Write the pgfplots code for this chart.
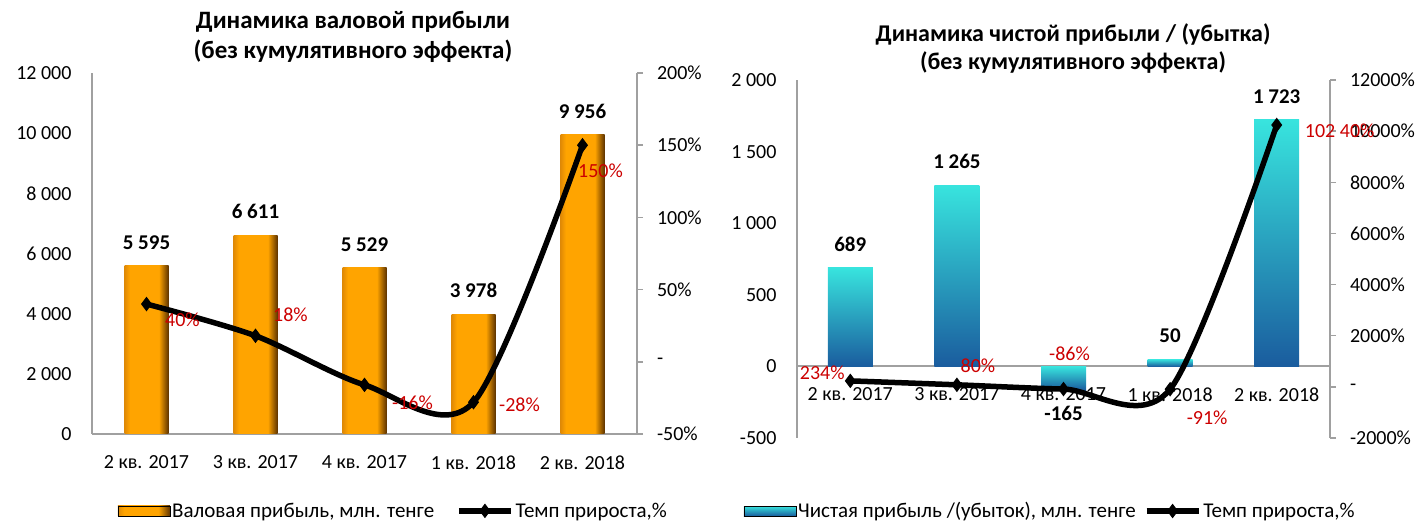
\documentclass[border=0pt]{standalone}
\usepackage{pgfplots}
\usepackage{pgfplotstable}
\pgfplotsset{compat=1.18}
\usepackage{fontspec}
\setmainfont{Carlito}
\definecolor{or1}{HTML}{E08A06}
\definecolor{or2}{HTML}{FFA400}
\definecolor{or3}{HTML}{5E3300}
\definecolor{tq1}{HTML}{38E4DE}
\definecolor{tq2}{HTML}{1A5C9E}
\definecolor{axgray}{HTML}{A0A0A0}
\definecolor{lblred}{HTML}{CC0000}
\pgfdeclarehorizontalshading{orbar}{100bp}{color(0bp)=(or1); color(25bp)=(or1); color(31bp)=(or2); color(64bp)=(or2); color(75bp)=(or3); color(100bp)=(or3)}
\pgfplotsset{
  /pgf/number format/assume math mode=true,
  wide line legend/.style={legend image code/.code={\draw[mark repeat=2,mark phase=2,##1] plot coordinates {(0pt,0pt) (26pt,0pt) (52pt,0pt)};}},
  base/.style={scale only axis, anchor=south west, xmin=-0.5, xmax=4.5,
    axis line style={axgray, line width=2pt},
    tick label style={font=\fontsize{20}{24}\selectfont},
    xtick={0,1,2,3,4}, xtick style={draw=none},
    xticklabels={2 кв. 2017, 3 кв. 2017, 4 кв. 2017, 1 кв. 2018, 2 кв. 2018},
    scaled y ticks=false,
    /pgf/number format/1000 sep={\ }},
  growthline/.style={black, line width=5.5pt, smooth, mark=diamond*, mark size=6.5pt,
    mark options={solid, fill=black, line width=1pt}},
  growthlabels/.style={point meta=explicit symbolic, nodes near coords, nodes near coords align={anchor=center},
    every node near coord/.append style={font=\fontsize{20}{24}\selectfont, text=lblred}},
  barlabels/.style={point meta=y, nodes near coords={\pgfmathprintnumber[1000 sep={\ }]{\pgfplotspointmeta}},
    every node near coord/.append style={font=\bfseries\fontsize{21}{24}\selectfont, text=black, inner ysep=16pt}}
}
\pgfplotstableread{
x val
0 5595
1 6611
2 5529
3 3978
4 9956
}\grossdata
\pgfplotstableread{
x g label
0 40 {40\%}
1 18 {18\%}
2 -16 {-16\%}
3 -28 {-28\%}
4 150 {150\%}
}\grossgrowth
\pgfplotstableread{
x val
0 689
1 1265
2 -165
3 50
4 1723
}\netdata
\pgfplotstableread{
x g label
0 234 {234\%}
1 80 {80\%}
2 -86 {-86\%}
3 -91 {-91\%}
4 10240 {102 40\%}
}\netgrowth
\begin{document}
\begin{tikzpicture}
\useasboundingbox (0,0) rectangle (1421pt,524pt);
% ---------- left panel ----------
\node[align=center, font=\bfseries\fontsize{25}{30}\selectfont] at (353pt,487pt) {Динамика валовой прибыли\\(без кумулятивного эффекта)};
\begin{axis}[base, at={(92pt,90pt)}, width=545pt, height=361pt,
  ymin=0, ymax=12000, ytick={0,2000,...,12000}, ytick style={draw=none},
  axis x line*=bottom, axis y line*=left,
  yticklabel shift=17pt, xticklabel shift=18pt]
\pgfplotsinvokeforeach{-0.2:0.2,0.8:1.2,1.8:2.2,2.8:3.2,3.8:4.2}{
\addplot[ybar, bar width=44pt, bar shift=0pt, draw=none, shading=orbar, shade, barlabels,
  restrict x to domain=#1] table[x=x, y=val] {\grossdata};
}
\end{axis}
\begin{axis}[base, at={(92pt,90pt)}, width=545pt, height=361pt, clip=false,
  ymin=-50, ymax=200, ytick={-50,0,50,100,150,200},
  yticklabels={-50\%,-,50\%,100\%,150\%,200\%},
  axis x line=none, axis y line*=right, tick align=outside, major tick length=6pt,
  ytick style={axgray, line width=1.5pt}, yticklabel shift=10.5pt,
  legend style={at={(axis description cs:0.553,-0.213)}, anchor=center, draw=none, fill=none,
    font=\fontsize{21}{24}\selectfont, legend columns=2,
    /tikz/every even column/.append style={column sep=20pt}}]
\addlegendimage{legend image code/.code={\shade[shading=orbar] (0pt,-5pt) rectangle (52pt,5pt);}}
\addlegendentry{Валовая прибыль, млн. тенге}
\addlegendimage{growthline, wide line legend}
\addlegendentry{Темп прироста,\%}
\addplot[growthline, forget plot, growthlabels,
  coordinate style/.condition={x==0}{xshift=36pt, yshift=-16pt},
  coordinate style/.condition={x==1}{xshift=35pt, yshift=21pt},
  coordinate style/.condition={x==2}{xshift=48pt, yshift=-18pt},
  coordinate style/.condition={x==3}{xshift=46pt, yshift=-3pt},
  coordinate style/.condition={x==4}{xshift=18pt, yshift=-26pt}]
  table[x=x, y=g, meta=label] {\grossgrowth};
\end{axis}
% ---------- right panel ----------
\node[align=center, font=\bfseries\fontsize{24}{28}\selectfont] at (1073pt,475pt) {Динамика чистой прибыли / (убытка)\\(без кумулятивного эффекта)};
\begin{axis}[base, at={(797pt,86pt)}, width=533pt, height=358pt,
  ymin=-500, ymax=2000, ytick={-500,0,500,...,2000}, ytick style={draw=none},
  axis x line*=middle, axis y line*=left,
  yticklabel shift=17pt, xticklabel shift=18pt]
\pgfplotsinvokeforeach{-0.2:0.2,0.8:1.2,1.8:2.2,2.8:3.2,3.8:4.2}{
\addplot[ybar, bar width=45pt, bar shift=0pt, draw=none, top color=tq1, bottom color=tq2, barlabels,
  restrict x to domain=#1] table[x=x, y=val] {\netdata};
}
\end{axis}
\begin{axis}[base, at={(797pt,86pt)}, width=533pt, height=358pt, clip=false,
  ymin=-2000, ymax=12000, ytick={-2000,0,2000,...,12000},
  yticklabels={-2000\%,-,2000\%,4000\%,6000\%,8000\%,10000\%,12000\%},
  axis x line=none, axis y line*=right, tick align=outside, major tick length=6pt,
  ytick style={axgray, line width=1.5pt}, yticklabel shift=10.5pt,
  legend style={at={(axis description cs:0.475,-0.204)}, anchor=center, draw=none, fill=none,
    font=\fontsize{21}{24}\selectfont, legend columns=2,
    /tikz/every even column/.append style={column sep=6pt}}]
\addlegendimage{legend image code/.code={\shade[top color=tq1, bottom color=tq2] (0pt,-5pt) rectangle (52pt,5pt);}}
\addlegendentry{Чистая прибыль /(убыток), млн. тенге}
\addlegendimage{growthline, wide line legend}
\addlegendentry{Темп прироста,\%}
\addplot[growthline, forget plot, growthlabels,
  coordinate style/.condition={x==0}{xshift=-28pt, yshift=8pt},
  coordinate style/.condition={x==1}{xshift=21pt, yshift=19pt},
  coordinate style/.condition={x==2}{xshift=6pt, yshift=35pt},
  coordinate style/.condition={x==3}{xshift=37pt, yshift=-29pt},
  coordinate style/.condition={x==4}{xshift=63pt, yshift=-6pt}]
  table[x=x, y=g, meta=label] {\netgrowth};
\end{axis}
\end{tikzpicture}
\end{document}
